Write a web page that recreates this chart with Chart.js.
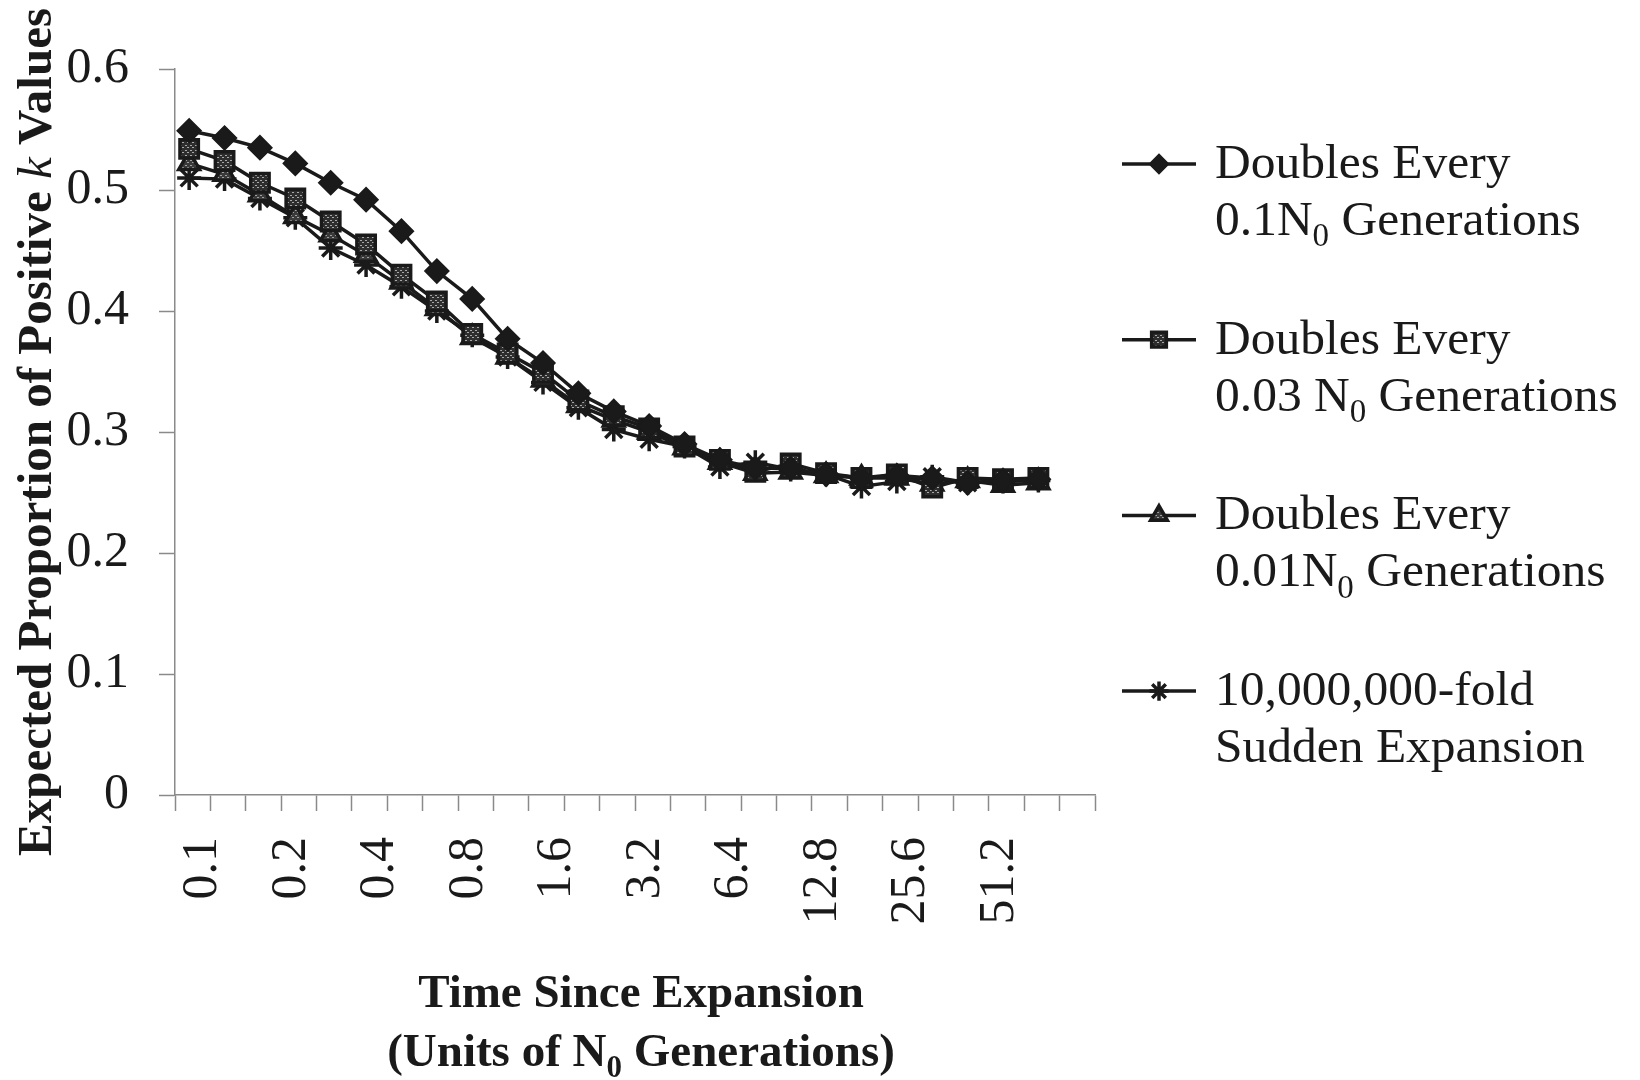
<!DOCTYPE html>
<html>
<head>
<meta charset="utf-8">
<script src="https://cdn.jsdelivr.net/npm/chart.js@4.4.1/dist/chart.umd.min.js"></script>
<style>
  html, body { margin: 0; padding: 0; background: #fff; }
</style>
</head>
<body>
<canvas id="chart" width="1640" height="1080"></canvas>
<script>
// labels written under the time axis (units of N0 generations)
const timeLabels = ["0.1", "0.2", "0.4", "0.8", "1.6", "3.2", "6.4", "12.8", "25.6", "51.2"]

// expected proportion of positive k, one value per time step
const doubles01 = [0.549, 0.543, 0.535, 0.522, 0.506, 0.492, 0.466, 0.433, 0.410, 0.377, 0.357, 0.332, 0.317,
  0.305, 0.290, 0.277, 0.270, 0.270, 0.265, 0.262, 0.264, 0.262, 0.258, 0.260, 0.261]
const doubles003 = [0.534, 0.524, 0.506, 0.493, 0.474, 0.455, 0.430, 0.408, 0.381, 0.365, 0.349, 0.326, 0.313,
  0.303, 0.288, 0.277, 0.267, 0.274, 0.266, 0.262, 0.265, 0.254, 0.262, 0.261, 0.262]
const doubles001 = [0.522, 0.513, 0.496, 0.478, 0.463, 0.446, 0.424, 0.402, 0.378, 0.362, 0.343, 0.322, 0.310,
  0.300, 0.287, 0.275, 0.266, 0.267, 0.264, 0.262, 0.262, 0.257, 0.260, 0.256, 0.258]
const sudden = [0.510, 0.509, 0.493, 0.477, 0.452, 0.438, 0.420, 0.400, 0.380, 0.362, 0.341, 0.320, 0.302,
  0.294, 0.288, 0.271, 0.275, 0.269, 0.265, 0.255, 0.259, 0.263, 0.258, 0.259, 0.260]

// legend lines; within a line every odd piece is a subscript
const seriesNames = [
  [["Doubles Every"], ["0.1N", "0", " Generations"]],
  [["Doubles Every"], ["0.03 N", "0", " Generations"]],
  [["Doubles Every"], ["0.01N", "0", " Generations"]],
  [["10,000,000-fold"], ["Sudden Expansion"]],
]

const ink = "#1a1a1a"
const axisGrey = "#8a8a8a"
const serif = "Liberation Serif"

function hatch(bg, fg) {
  const c = document.createElement("canvas")
  c.width = 5
  c.height = 5
  const g = c.getContext("2d")
  g.fillStyle = bg
  g.fillRect(0, 0, 5, 5)
  g.fillStyle = fg
  g.fillRect(0, 0, 2, 1)
  g.fillRect(2, 2, 2, 1)
  return g.createPattern(c, "repeat")
}

function toPoints(values) {
  return values.map((y, i) => ({ x: i, y: y }))
}

// draws a run of text pieces, odd pieces as subscripts
function richText(ctx, pieces, x, y, size, weight, align) {
  const font = s => weight + " " + s + "px '" + serif + "'"
  const sub = Math.round(size * 0.66)
  let width = 0
  pieces.forEach((p, i) => {
    ctx.font = font(i % 2 ? sub : size)
    width += ctx.measureText(p).width
  })
  let cx = align === "center" ? x - width / 2 : x
  ctx.textAlign = "left"
  ctx.textBaseline = "alphabetic"
  pieces.forEach((p, i) => {
    ctx.font = font(i % 2 ? sub : size)
    ctx.fillText(p, cx, i % 2 ? y + size * 0.23 : y)
    cx += ctx.measureText(p).width
  })
}

const decorations = {
  id: "decorations",
  afterDraw(chart) {
    const ctx = chart.ctx
    const area = chart.chartArea
    ctx.save()
    ctx.fillStyle = ink

    // x axis title, two lines
    const midX = (area.left + area.right) / 2 + 6
    richText(ctx, ["Time Since Expansion"], midX, 1007, 47, "bold", "center")
    richText(ctx, ["(Units of N", "0", " Generations)"], midX, 1066, 47, "bold", "center")

    // y axis title with italic k
    const parts = [["Expected Proportion of Positive ", "bold"], ["k", "italic"], [" Values", "bold"]]
    let total = 0
    parts.forEach(p => {
      ctx.font = p[1] + " 49px '" + serif + "'"
      total += ctx.measureText(p[0]).width
    })
    ctx.translate(51, (area.top + area.bottom) / 2)
    ctx.rotate(-Math.PI / 2)
    ctx.textAlign = "left"
    ctx.textBaseline = "alphabetic"
    let px = -total / 2
    parts.forEach(p => {
      ctx.font = p[1] + " 49px '" + serif + "'"
      ctx.fillText(p[0], px, 0)
      px += ctx.measureText(p[0]).width
    })
    ctx.restore()

    // legend on the right
    ctx.save()
    chart.data.datasets.forEach((ds, i) => {
      const y = 164 + 175.7 * i
      ctx.strokeStyle = ds.borderColor
      ctx.lineWidth = ds.borderWidth
      ctx.beginPath()
      ctx.moveTo(1122, y)
      ctx.lineTo(1196, y)
      ctx.stroke()
      ctx.fillStyle = ds.pointBackgroundColor
      ctx.strokeStyle = ds.pointBorderColor
      ctx.lineWidth = ds.pointBorderWidth
      Chart.helpers.drawPoint(ctx, {
        pointStyle: ds.pointStyle, radius: ds.pointRadius * 0.8, rotation: 0, borderWidth: ds.pointBorderWidth
      }, 1159, y)
      ctx.fillStyle = ink
      seriesNames[i].forEach((line, j) => {
        richText(ctx, line, 1215, y + 14 + 57 * j, 49.5, "normal", "left")
      })
    })
    ctx.restore()
  }
}

const seriesStyle = (values, style, radius, fill, borderWidth) => ({
  data: toPoints(values),
  borderColor: ink,
  borderWidth: 3.5,
  pointStyle: style,
  pointRadius: radius,
  pointBackgroundColor: fill,
  pointBorderColor: ink,
  pointBorderWidth: borderWidth,
  pointHoverRadius: radius,
  tension: 0,
})

const chartEl = document.getElementById("chart")
const lineChart = new Chart(chartEl, {
  type: "line",
  data: {
    datasets: [
      Object.assign({ label: "Doubles Every 0.1N0 Generations" }, seriesStyle(doubles01, "rectRot", 12, ink, 1.5)),
      Object.assign({ label: "Doubles Every 0.03 N0 Generations" }, seriesStyle(doubles003, "rect", 13, hatch("#2e2e2e", "#a8a8a8"), 3.5)),
      Object.assign({ label: "Doubles Every 0.01N0 Generations" }, seriesStyle(doubles001, "triangle", 12, hatch("#3a3a3a", "#a0a0a0"), 3.5)),
      Object.assign({ label: "10,000,000-fold Sudden Expansion" }, seriesStyle(sudden, "star", 12, ink, 3.5)),
    ]
  },
  options: {
    responsive: false,
    devicePixelRatio: 1,
    animation: false,
    layout: { padding: { top: 69, right: 545, bottom: 0, left: 0 } },
    plugins: {
      legend: { display: false },
      tooltip: { enabled: false },
    },
    scales: {
      x: {
        type: "linear",
        min: -0.4,
        max: 25.6,
        bounds: "data",
        afterBuildTicks: axis => {
          const ticks = []
          for (let k = 0; k <= 26; k++) ticks.push({ value: axis.min + k })
          timeLabels.forEach((t, i) => ticks.push({ value: 0.4 + 2.5 * i, text: t }))
          axis.ticks = ticks
        },
        afterFit: axis => { axis.height = 285 },
        grid: {
          drawOnChartArea: false,
          tickLength: 16,
          tickWidth: 1.5,
          tickColor: ctx => (ctx.tick && ctx.tick.text ? "rgba(0,0,0,0)" : axisGrey),
        },
        border: { color: axisGrey, width: 1.5 },
        ticks: {
          autoSkip: false,
          minRotation: 90,
          maxRotation: 90,
          padding: 26,
          color: ink,
          font: { family: serif, size: 50 },
          callback: (value, index, ticks) => ticks[index].text || "",
        },
      },
      y: {
        min: 0,
        max: 0.6,
        afterFit: axis => { axis.width = 175 },
        grid: { drawOnChartArea: false, tickLength: 16, tickWidth: 1.5, tickColor: axisGrey },
        border: { color: axisGrey, width: 1.5 },
        ticks: {
          stepSize: 0.1,
          padding: 30,
          color: ink,
          font: { family: serif, size: 50 },
        },
      },
    },
  },
  plugins: [decorations],
})
</script>
</body>
</html>
